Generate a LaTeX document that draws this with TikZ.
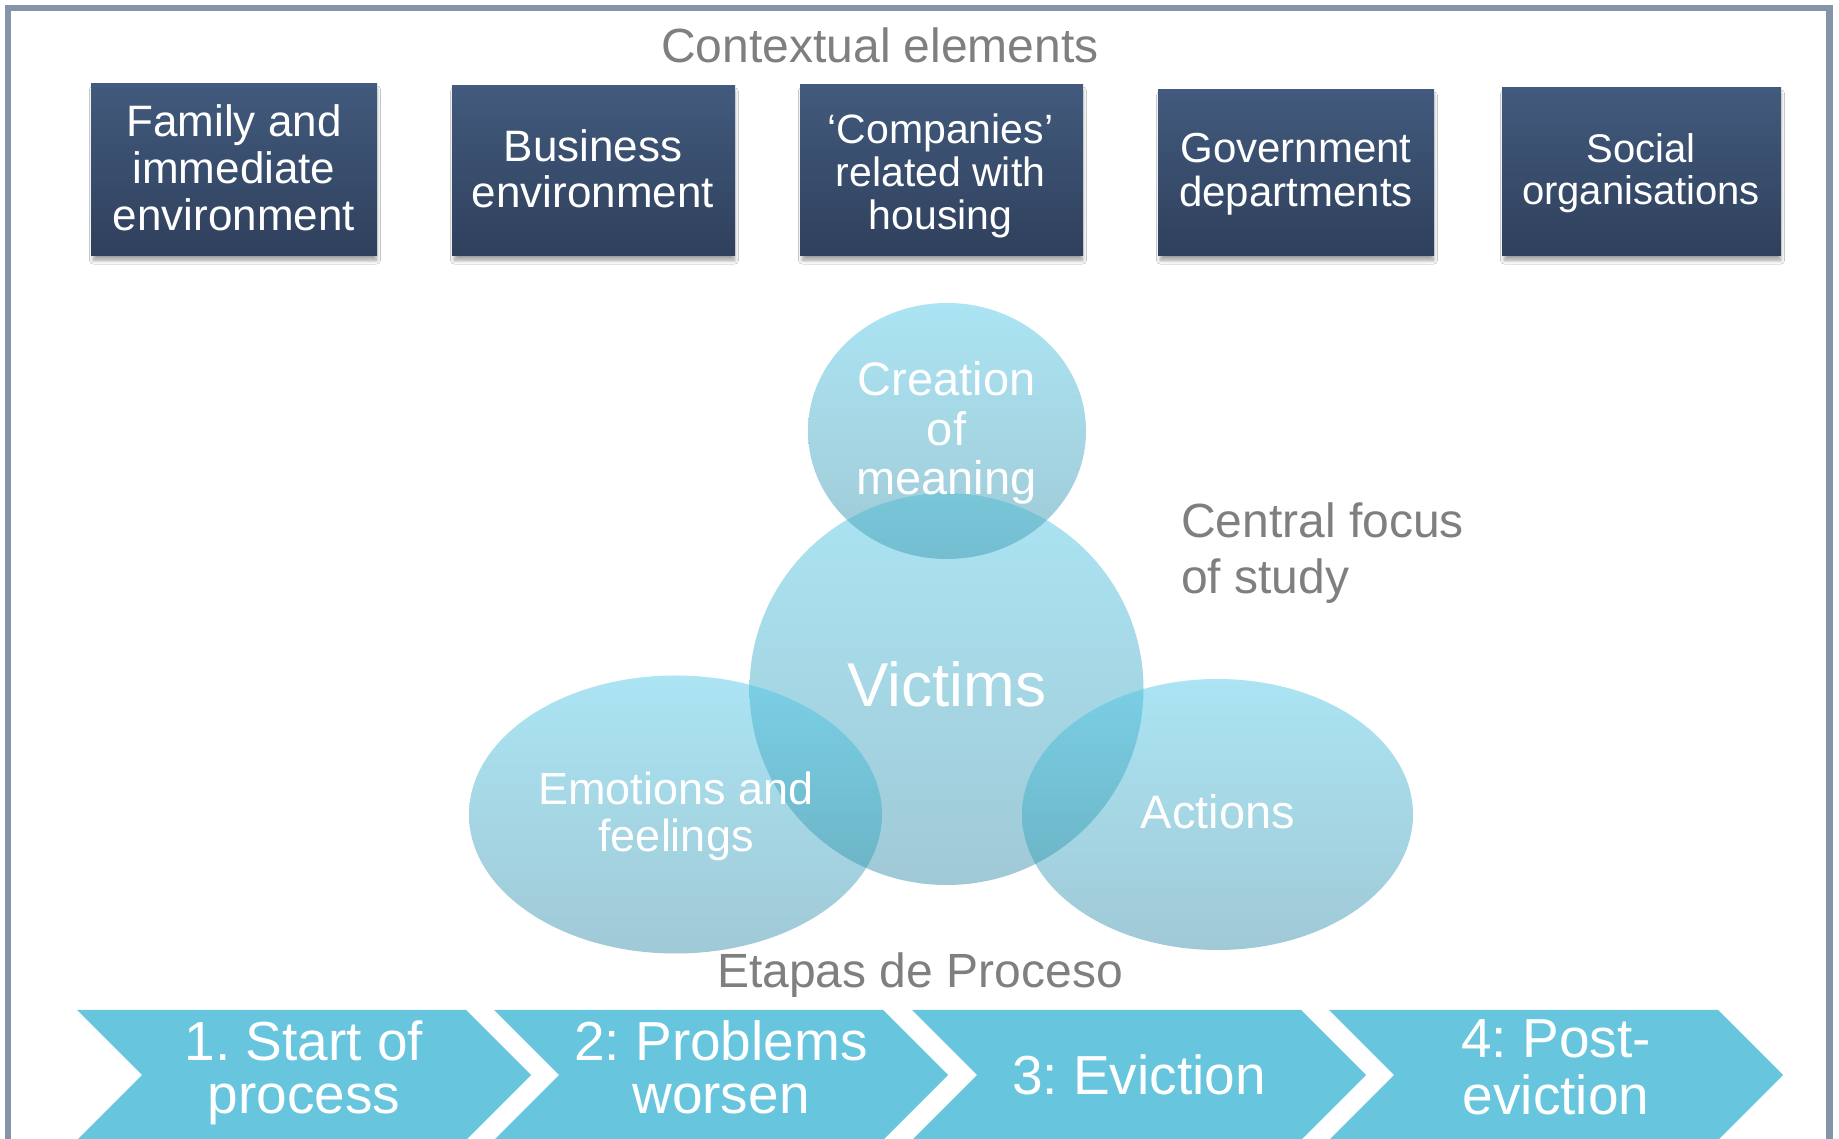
\documentclass[tikz,border=0pt]{standalone}
\usepackage{fontspec}
\setmainfont{Liberation Sans}
\usetikzlibrary{shapes.symbols,shadows.blur}

\definecolor{frameblue}{HTML}{8594A9}
\definecolor{boxtop}{HTML}{425A7D}
\definecolor{boxbot}{HTML}{2F405C}
\definecolor{elltop}{HTML}{ABE4F3}
\definecolor{ellbot}{HTML}{A0C9D6}
\definecolor{ovAtop}{HTML}{7AC7DA}
\definecolor{ovAbot}{HTML}{74BDD0}
\definecolor{ovBtop}{HTML}{7BD0E6}
\definecolor{ovBbot}{HTML}{6DB5C7}
\definecolor{chevfill}{HTML}{68C5DE}
\definecolor{labelgray}{HTML}{7F7F7F}

\newcommand{\fsz}[2]{\fontsize{#1}{#2}\selectfont}
\frenchspacing

\begin{document}
\begin{tikzpicture}[x=1pt,y=1pt,
  ctxbox/.style={rectangle, inner sep=0pt, top color=boxtop, bottom color=boxbot,
    blur shadow={shadow xshift=1pt, shadow yshift=-5pt, shadow scale=0.99,
      shadow blur radius=4pt, shadow blur steps=8, shadow opacity=40}},
  boxtext/.style={text=white, align=center, inner sep=0pt},
  elltext/.style={text=white, align=center, inner sep=0pt},
  graytext/.style={text=labelgray, inner sep=0pt},
  chevron/.style={signal, signal to=east, signal from=west, signal pointer angle=90,
    fill=chevfill, draw=none, inner sep=0pt, minimum width=454pt, minimum height=130pt,
    text=white, align=center, font=\fsz{55}{53}},
  bubble/.style={top color=elltop, bottom color=ellbot}
]
\useasboundingbox (0,0) rectangle (1839,1138);
\fill[white] (0,0) rectangle (1839,1138);

% outer frame (its lower edge runs below the page)
\draw[frameblue, line width=6.5pt] (8,-20) -- (8,1130) -- (1829.5,1130) -- (1829.5,-20);

% heading of the context row
\node[graytext, anchor=base, font=\fsz{48}{56}] (ctxhead) at (880,1075) {Contextual elements};

% context boxes
\node[ctxbox, minimum width=286pt, minimum height=172pt] (b1) at (234,968) {};
\node[ctxbox, minimum width=283pt, minimum height=170pt] (b2) at (593.5,967) {};
\node[ctxbox, minimum width=283pt, minimum height=171pt] (b3) at (941.5,967.5) {};
\node[ctxbox, minimum width=276pt, minimum height=166pt] (b4) at (1296,965) {};
\node[ctxbox, minimum width=279pt, minimum height=168pt] (b5) at (1641.5,966) {};

\node[boxtext, font=\fsz{44}{47}] (t1) at (234,963.4)
  {\strut Family and\\\strut immediate\\\strut environment};
\node[boxtext, font=\fsz{44}{45}] (t2) at (593,962.5)
  {\strut Business\\\strut environment};
\node[boxtext, font=\fsz{41}{43}] (t3) at (940.5,959.6)
  {\strut `Companies'\\\strut related with\\\strut housing};
\node[boxtext, font=\fsz{42}{44}] (t4) at (1296,961.8)
  {\strut Government\\\strut departments};
\node[boxtext, font=\fsz{40}{40}] (t5) at (1641,963)
  {\strut Social\\\strut organisations};

% the four bubbles
\shade[bubble] (947,707) ellipse [x radius=139, y radius=128];
\shade[bubble] (946.5,449) ellipse [x radius=197, y radius=196];
\shade[bubble] (675.5,323.5) ellipse [x radius=206.5, y radius=139];
\shade[bubble] (1217.5,323.5) ellipse [x radius=195.5, y radius=135.5];

% overlaps of the bubbles, drawn darker
\begin{scope}
  \clip (947,707) ellipse [x radius=139, y radius=128];
  \clip (946.5,449) ellipse [x radius=197, y radius=196];
  \shade[top color=ovAtop, bottom color=ovAbot] (800,575) rectangle (1100,650);
\end{scope}
\begin{scope}
  \clip (675.5,323.5) ellipse [x radius=206.5, y radius=139];
  \clip (946.5,449) ellipse [x radius=197, y radius=196];
  \shade[top color=ovBtop, bottom color=ovBbot] (740,265) rectangle (890,465);
\end{scope}
\begin{scope}
  \clip (1217.5,323.5) ellipse [x radius=195.5, y radius=135.5];
  \clip (946.5,449) ellipse [x radius=197, y radius=196];
  \shade[top color=ovBtop, bottom color=ovBbot] (1010,265) rectangle (1150,465);
\end{scope}

% bubble labels
\node[elltext, font=\fsz{47}{49.5}] (creation) at (946.5,702.4)
  {\strut Creation\\\strut of\\\strut meaning};
\node[elltext, anchor=base, font=\fsz{62}{66}] (victims) at (947,431) {Victims};
\node[elltext, font=\fsz{45}{45}] (emotions) at (676,319.5)
  {\strut Emotions and\\\strut feelings};
\node[elltext, anchor=base, font=\fsz{47}{49}] (actions) at (1218,309) {Actions};

\node[graytext, align=left, anchor=west, font=\fsz{48}{56}] (focus) at (1181,583.2)
  {\strut Central focus\\\strut of study};

% process stages
\node[graytext, anchor=base, font=\fsz{48}{56}] (stageshead) at (920,150) {Etapas de Proceso};

\node[chevron] (c1) at (304,63) {\strut 1. Start of\\\strut process};
\node[chevron] (c2) at (721,63) {\strut 2: Problems\\\strut worsen};
\node[chevron] (c3) at (1139,63) {3: Eviction};
\node[chevron] (c4) at (1556,63) {\strut 4: Post-\\\strut eviction};
\end{tikzpicture}
\end{document}
